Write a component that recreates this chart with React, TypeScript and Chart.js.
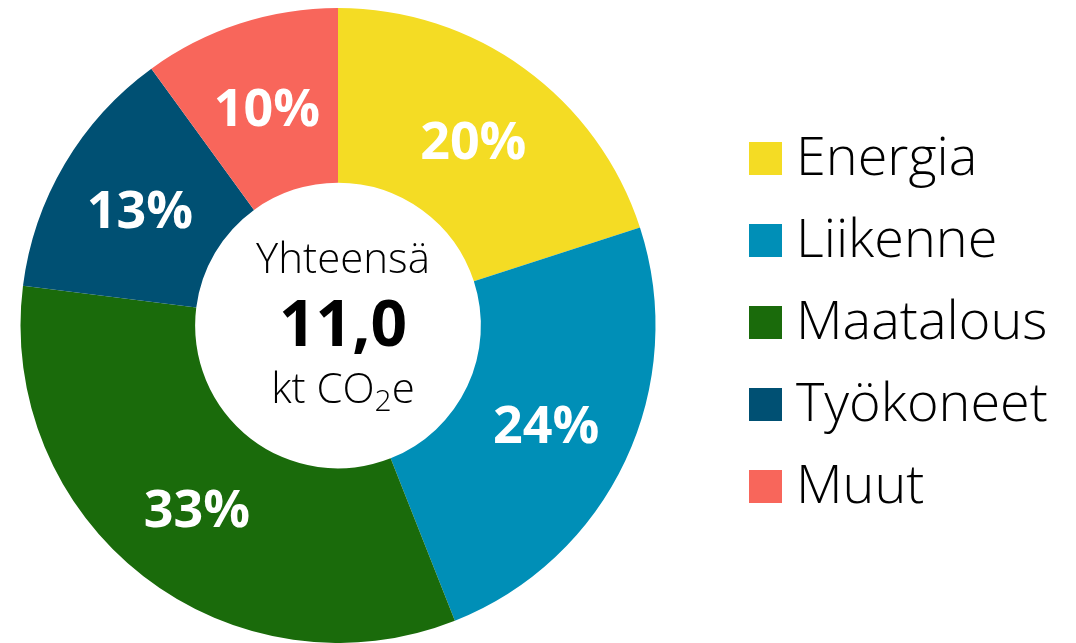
import React, { useEffect, useRef } from "react";
import { Chart, registerables } from "chart.js";

Chart.register(...registerables);

const categories = ["Energia", "Liikenne", "Maatalous", "Työkoneet", "Muut"];
const shares = [20, 24, 33, 13, 10];
const colors = ["#F4DC24", "#008FB7", "#1A6B0B", "#005073", "#F8665B"];
const totalLabel = "Yhteensä";
const totalValue = "11,0";
const unitMain = "kt CO";
const unitSub = "2";
const unitEnd = "e";

const FONT = "'Open Sans', sans-serif";

const labelsPlugin = {
  id: "sliceLabels",
  afterDatasetsDraw(chart: any) {
    const ctx = chart.ctx;
    const meta = chart.getDatasetMeta(0);
    ctx.save();
    ctx.fillStyle = "#ffffff";
    ctx.font = `700 52px ${FONT}`;
    ctx.textAlign = "center";
    ctx.textBaseline = "middle";
    meta.data.forEach((arc: any, i: number) => {
      const p = arc.getProps(["x", "y", "startAngle", "endAngle", "innerRadius", "outerRadius"], true);
      const a = (p.startAngle + p.endAngle) / 2;
      const r = (p.innerRadius + p.outerRadius) / 2;
      ctx.fillText(`${shares[i]}%`, p.x + Math.cos(a) * r, p.y + Math.sin(a) * r + 5);
    });
    // center text
    const c = meta.data[0].getProps(["x", "y"], true);
    const cx = c.x + 5;
    const cy = c.y;
    ctx.fillStyle = "#000000";
    ctx.textBaseline = "alphabetic";
    ctx.font = `300 42px ${FONT}`;
    ctx.fillText(totalLabel, cx, cy - 53);
    ctx.font = `700 64px ${FONT}`;
    ctx.fillText(totalValue, cx, cy + 20);
    ctx.font = `300 42px ${FONT}`;
    const w1 = ctx.measureText(unitMain).width;
    const w3 = ctx.measureText(unitEnd).width;
    ctx.font = `300 30px ${FONT}`;
    const w2 = ctx.measureText(unitSub).width;
    const total = w1 + w2 + w3;
    let x = cx - total / 2;
    ctx.textAlign = "left";
    ctx.font = `300 42px ${FONT}`;
    ctx.fillText(unitMain, x, cy + 77);
    x += w1;
    ctx.font = `300 30px ${FONT}`;
    ctx.fillText(unitSub, x, cy + 85);
    x += w2;
    ctx.font = `300 42px ${FONT}`;
    ctx.fillText(unitEnd, x, cy + 77);

    // legend
    ctx.font = `300 54px ${FONT}`;
    ctx.textBaseline = "alphabetic";
    categories.forEach((name, i) => {
      const top = 142 + i * 82;
      ctx.fillStyle = colors[i];
      ctx.fillRect(749, top, 33, 33);
      ctx.fillStyle = "#000000";
      ctx.fillText(name, 796, top + 33);
    });
    ctx.restore();
  },
};

export default function App() {
  const ref = useRef<HTMLCanvasElement>(null);
  useEffect(() => {
    if (!ref.current) return;
    const chart = new Chart(ref.current, {
      type: "doughnut",
      data: {
        labels: categories,
        datasets: [
          {
            data: shares,
            backgroundColor: colors,
            borderWidth: 0,
          },
        ],
      },
      options: {
        animation: false,
        responsive: true,
        maintainAspectRatio: false,
        cutout: "45%",
        layout: { padding: { top: 8, bottom: 0, left: 20, right: 420 } },
        plugins: {
          legend: { display: false },
          tooltip: { enabled: false },
        },
      },
      plugins: [labelsPlugin],
    });
    return () => chart.destroy();
  }, []);
  return (
    <div style={{ position: "fixed", left: 0, top: 0, width: 1076, height: 643, background: "#fff" }}>
      <canvas ref={ref} />
    </div>
  );
}
